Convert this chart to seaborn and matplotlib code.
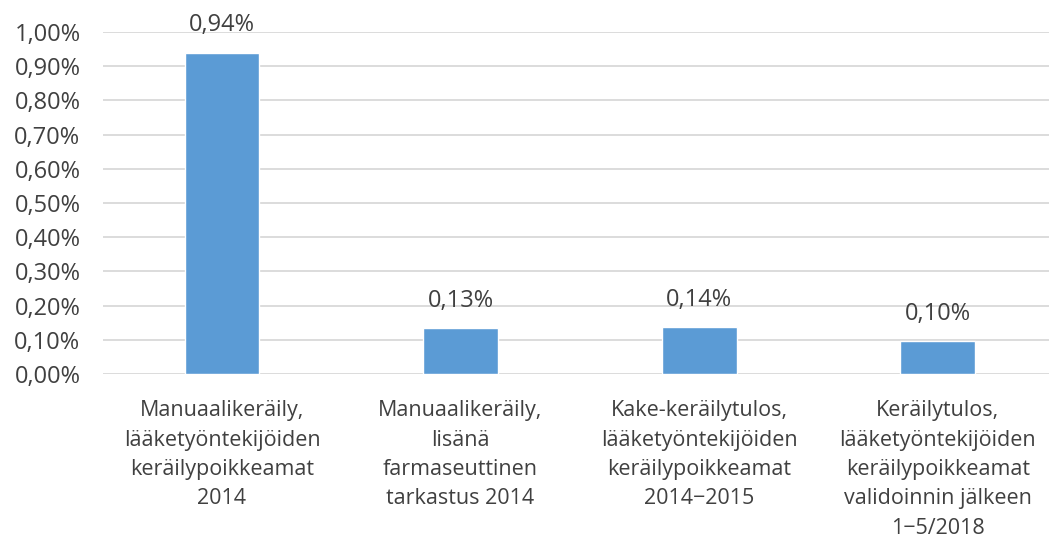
import matplotlib
matplotlib.use("Agg")
import matplotlib.pyplot as plt
import seaborn as sns
import pandas as pd
from matplotlib.ticker import FuncFormatter

categories = [
    "Manuaalikeräily,\nlääketyöntekijöiden\nkeräilypoikkeamat\n2014",
    "Manuaalikeräily,\nlisänä\nfarmaseuttinen\ntarkastus 2014",
    "Kake-keräilytulos,\nlääketyöntekijöiden\nkeräilypoikkeamat\n2014\u22122015",
    "Keräilytulos,\nlääketyöntekijöiden\nkeräilypoikkeamat\nvalidoinnin jälkeen\n1\u22125/2018",
]
values = [0.94, 0.134, 0.137, 0.097]
value_labels = ["0,94%", "0,13%", "0,14%", "0,10%"]
yticks = [0.0, 0.1, 0.2, 0.3, 0.4, 0.5, 0.6, 0.7, 0.8, 0.9, 1.0]

sns.set_style("white")
plt.rcParams['font.family'] = ['Open Sans', 'DejaVu Sans']
text_color = "#404040"

df = pd.DataFrame({"cat": categories, "val": values})

fig = plt.figure(figsize=(10.49, 5.45), dpi=100)
W, H = 1049, 545
left, right, top, bottom = 102.7, 1057, 32, 374
ax = fig.add_axes([left / W, (H - bottom) / H, (right - left) / W, (bottom - top) / H])

sns.barplot(data=df, x="cat", y="val", color="#5B9BD5", width=0.314, ax=ax,
            saturation=1, zorder=3)
ax.set_xlim(-0.5, 3.5)
ax.set_ylim(0, 1.0)
ax.set_yticks(yticks)
ax.yaxis.set_major_formatter(FuncFormatter(lambda v, p: f"{v:.2f}%".replace(".", ",")))
ax.grid(axis="y", color="#D9D9D9", linewidth=1.3, zorder=0)
ax.grid(axis="x", visible=False)
for s in ax.spines.values():
    s.set_visible(False)
ax.tick_params(axis="y", length=0, pad=16, labelsize=17, labelcolor=text_color)
ax.tick_params(axis="x", length=0, pad=19, labelsize=15.5, labelcolor=text_color)
for lbl in ax.get_xticklabels():
    lbl.set_linespacing(1.52)
ax.set_xlabel("")
ax.set_ylabel("")

for i, (v, t) in enumerate(zip(values, value_labels)):
    ax.annotate(t, (i, v), xytext=(0, 11), textcoords="offset points",
                ha="center", va="bottom", fontsize=17, color=text_color,
                annotation_clip=False)

fig.savefig("out.png", dpi=100)
